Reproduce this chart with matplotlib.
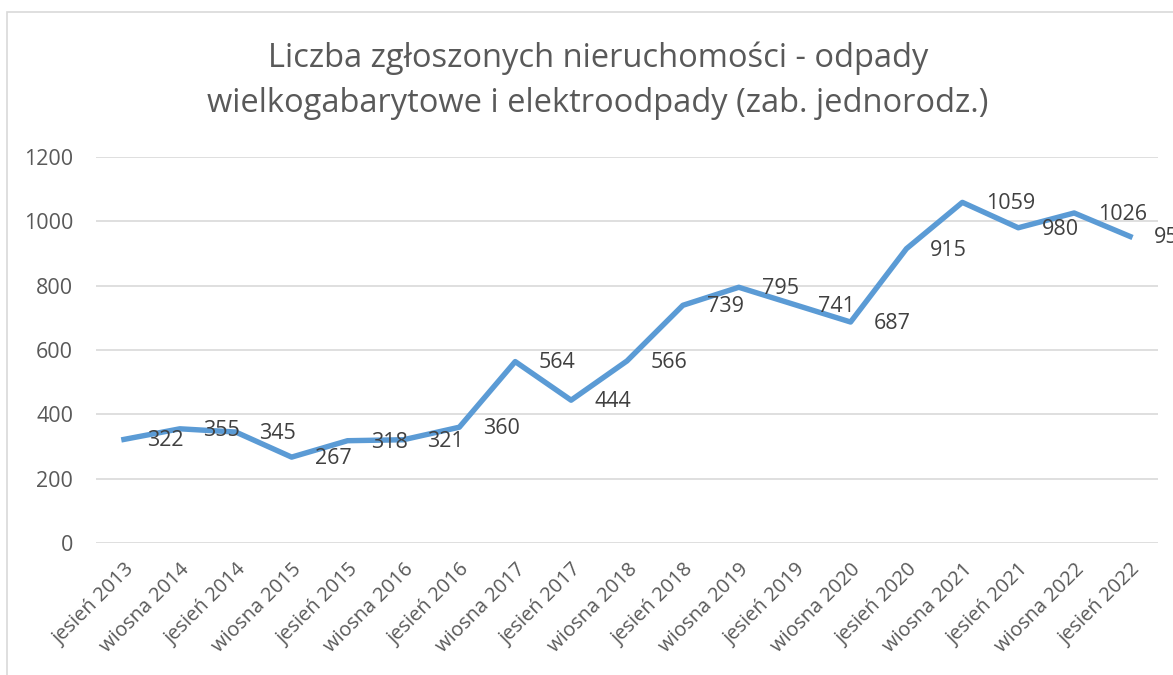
import matplotlib.pyplot as plt
from matplotlib.patches import Rectangle

categories = ["jesień 2013", "wiosna 2014", "jesień 2014", "wiosna 2015", "jesień 2015",
              "wiosna 2016", "jesień 2016", "wiosna 2017", "jesień 2017", "wiosna 2018",
              "jesień 2018", "wiosna 2019", "jesień 2019", "wiosna 2020", "jesień 2020",
              "wiosna 2021", "jesień 2021", "wiosna 2022", "jesień 2022"]
values = [322, 355, 345, 267, 318, 321, 360, 564, 444, 566,
          739, 795, 741, 687, 915, 1059, 980, 1026, 953]
yticks = [0, 200, 400, 600, 800, 1000, 1200]

plt.rcParams['font.family'] = ['Open Sans', 'DejaVu Sans']

fig = plt.figure(figsize=(11.73, 6.75), dpi=100)
ax = fig.add_axes([96 / 1173, 1 - 543 / 675, (1158 - 96) / 1173, (543 - 157) / 675])

x = list(range(len(values)))
ax.plot(x, values, color='#5B9BD5', linewidth=3.9, solid_joinstyle='round', zorder=3)

for xi, v in zip(x, values):
    ax.annotate(str(v), (xi, v), xytext=(17, -1), textcoords='offset points',
                ha='left', va='center', fontsize=15.5, color='#404040',
                annotation_clip=False, zorder=4)

ax.set_xlim(-0.5, len(values) - 0.5)
ax.set_ylim(0, 1200)
ax.set_yticks(yticks)
ax.set_yticklabels([str(t) for t in yticks], fontsize=15.5, color='#595959')
ax.set_xticks(x)
ax.set_xticklabels(categories, rotation=45, ha='right', rotation_mode='anchor',
                   fontsize=14.5, color='#595959')
ax.tick_params(axis='both', length=0)
ax.tick_params(axis='y', pad=16.5)
ax.tick_params(axis='x', pad=12)
ax.grid(axis='y', color='#D9D9D9', linewidth=1.2)
ax.set_axisbelow(True)
for s in ax.spines.values():
    s.set_visible(False)

fig.text(598 / 1173, 1 - 58 / 675, "Liczba zgłoszonych nieruchomości - odpady",
         ha='center', va='center', fontsize=23.5, color='#595959')
fig.text(598 / 1173, 1 - 104 / 675, "wielkogabarytowe i elektroodpady (zab. jednorodz.)",
         ha='center', va='center', fontsize=23.5, color='#595959')

fig.patches.append(Rectangle((7 / 1173, -0.1), 1.2, 1 - 12 / 675 + 0.1,
                             transform=fig.transFigure, fill=False,
                             edgecolor='#D9D9D9', linewidth=1.2))

fig.savefig('out.png', dpi=100)
